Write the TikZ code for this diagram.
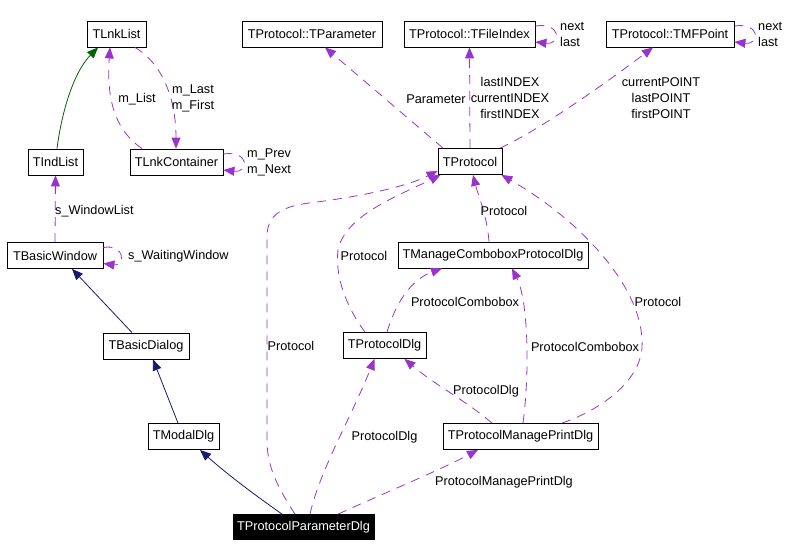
\documentclass[tikz,border=0pt]{standalone}
\usepackage{fontspec}
\setmainfont{Liberation Sans}
\usepackage{xcolor}
\definecolor{usePurple}{HTML}{9A32CD}
\definecolor{inhNavy}{HTML}{191970}
\definecolor{inhGreen}{HTML}{006400}
\usepackage{tikz}
\usetikzlibrary{arrows.meta}

\tikzset{
  cls/.style={draw, line width=0.8pt, minimum height=26pt, inner xsep=1pt, inner ysep=0pt,
    font=\fontsize{12.7}{16}\selectfont},
  focus/.style={cls, fill=black, text=white},
  lbl/.style={inner sep=0pt, align=center, font=\fontsize{12.7}{16}\selectfont},
  uses/.style={usePurple, line width=0.8pt, dash pattern=on 9pt off 7pt,
    -{Triangle[length=11pt,width=9pt]}},
  inh/.style={inhNavy, line width=0.8pt, -{Triangle[length=11pt,width=9pt]}},
  inhgreen/.style={inhGreen, line width=0.8pt, -{Triangle[length=11pt,width=9pt]}},
}

\begin{document}
\begin{tikzpicture}[x=1pt, y=-1pt]
  \useasboundingbox (0,0) rectangle (787,558);
  % ------- classes -------
  \node[cls, minimum width=59pt]  (lnklist)  at (116.5,34)  {TLnkList};
  \node[cls, minimum width=140pt] (tparam)   at (312,34)    {TProtocol::TParameter};
  \node[cls, minimum width=131pt] (tfileidx) at (469.5,34)  {TProtocol::TFileIndex};
  \node[cls, minimum width=128pt] (tmfpoint) at (670,34)    {TProtocol::TMFPoint};
  \node[cls, minimum width=55pt]  (indlist)  at (55.5,162)  {TIndList};
  \node[cls, minimum width=93pt]  (lnkcont)  at (176.5,162) {TLnkContainer};
  \node[cls, minimum width=64pt]  (tprot)    at (470,161.5) {TProtocol};
  \node[cls, minimum width=96pt]  (bwin)     at (55,255.5)  {TBasicWindow};
  \node[cls, minimum width=190pt] (mancombo) at (493,255)   {TManageComboboxProtocolDlg};
  \node[cls, minimum width=86pt]  (bdlg)     at (146,346)   {TBasicDialog};
  \node[cls, minimum width=83pt]  (protdlg)  at (384.5,345.5) {TProtocolDlg};
  \node[cls, minimum width=71pt]  (modal)    at (183.5,436.5) {TModalDlg};
  \node[cls, minimum width=155pt] (pmpd)     at (520.5,436.5) {TProtocolManagePrintDlg};
  \node[focus, minimum width=141pt, minimum height=25pt] (ppd) at (303.5,527) {TProtocolParameterDlg};

  % ------- inheritance -------
  \draw[inhgreen] ([xshift=1.5pt]indlist.north) .. controls (62,110) and (74,72) .. ([xshift=-18.5pt]lnklist.south);
  \draw[inh] ([xshift=-14pt]bdlg.north) -- ([xshift=17pt]bwin.south);
  \draw[inh] ([xshift=-5.5pt]modal.north) -- ([xshift=7pt]bdlg.south);
  \draw[inh] ([xshift=-21.5pt]ppd.north) .. controls (255,495) and (228,475) .. ([xshift=16.5pt]modal.south);

  % ------- list members -------
  \draw[uses] ([xshift=-34.5pt]lnkcont.north) .. controls (118,132) and (106,105) .. ([xshift=-6.5pt]lnklist.south);
  \draw[uses] ([xshift=18.5pt]lnklist.south) .. controls (160,62) and (176,95) .. ([xshift=-0.5pt]lnkcont.north);
  \draw[uses] (bwin.north) -- (indlist.south);
  \node[lbl] (lList) at (137,99) {m\_List};
  \node[lbl] (lLast) at (193,98) {m\_Last\\m\_First};
  \node[lbl, anchor=west] (lWinList) at (55,211) {s\_WindowList};

  % ------- self references -------
  \foreach \n/\d in {lnkcont/26, bwin/22, tfileidx/26, tmfpoint/26} {
    \draw[uses] ([yshift=8pt]\n.east) .. controls +(\d,-4) and +(\d,3) .. ([yshift=-8pt]\n.east);
  }
  \node[lbl, anchor=west, align=left] (lPrev)  at (247,162)  {m\_Prev\\m\_Next};
  \node[lbl, anchor=west] (lWait)  at (128,256) {s\_WaitingWindow};
  \node[lbl, anchor=west, align=left] (lNext1) at (560,34.5) {next\\last};
  \node[lbl, anchor=west, align=left] (lNext2) at (758,34.5) {next\\last};

  % ------- TProtocol members -------
  \draw[uses] ([xshift=-27pt]tprot.north) -- ([xshift=13pt]tparam.south);
  \draw[uses] (tprot.north) -- (tfileidx.south);
  \draw[uses] ([xshift=30pt]tprot.north) .. controls (540,130) and (610,80) .. ([xshift=-17pt]tmfpoint.south);
  \node[lbl] (lParam) at (436,99) {Parameter};
  \node[lbl] (lIndex) at (510,98) {lastINDEX\\currentINDEX\\firstINDEX};
  \node[lbl] (lPoint) at (661,98) {currentPOINT\\lastPOINT\\firstPOINT};

  % ------- Protocol -------
  \draw[uses] ([xshift=-8.5pt]ppd.north) .. controls (276,485) and (267,465) .. (267,440) -- (267,235)
    .. controls (268,210) and (290,205) .. (317,202) .. controls (370,195) and (410,185) .. ([yshift=4pt]tprot.south west);
  \draw[uses] ([xshift=-19.5pt]protdlg.north) .. controls (345,305) and (335,275) .. (338,250)
    .. controls (345,215) and (400,195) .. ([xshift=3pt]tprot.south west);
  \draw[uses] ([xshift=-4pt]mancombo.north) .. controls (487,215) and (478,195) .. ([xshift=3pt]tprot.south);
  \draw[uses] ([xshift=41.5pt]pmpd.north) .. controls (600,410) and (645,380) .. (642,340)
    .. controls (640,285) and (580,220) .. ([xshift=-1pt]tprot.south east);
  \node[lbl] (lProt1) at (291,346) {Protocol};
  \node[lbl] (lProt2) at (364,256) {Protocol};
  \node[lbl] (lProt3) at (504,211) {Protocol};
  \node[lbl] (lProt4) at (658,302) {Protocol};

  % ------- dialogs -------
  \draw[uses] ([xshift=2.5pt]protdlg.north) .. controls (395,305) and (410,280) .. ([xshift=-51pt]mancombo.south);
  \draw[uses] ([xshift=2.5pt]pmpd.north) .. controls (530,370) and (528,300) .. ([xshift=19pt]mancombo.south);
  \draw[uses] ([xshift=-28.5pt]pmpd.north) .. controls (465,400) and (435,385) .. ([xshift=20pt]protdlg.south);
  \draw[uses] ([xshift=6.5pt]ppd.north) .. controls (320,470) and (350,420) .. ([xshift=-10pt]protdlg.south);
  \draw[uses] ([xshift=34.5pt]ppd.north) .. controls (380,495) and (440,470) .. ([xshift=-42.5pt]pmpd.south);
  \node[lbl] (lCombo1) at (465,302) {ProtocolCombobox};
  \node[lbl] (lCombo2) at (585,347) {ProtocolCombobox};
  \node[lbl] (lDlg1)   at (486,391) {ProtocolDlg};
  \node[lbl] (lDlg2)   at (384.5,437) {ProtocolDlg};
  \node[lbl] (lPMPD)   at (504,482) {ProtocolManagePrintDlg};
\end{tikzpicture}
\end{document}
